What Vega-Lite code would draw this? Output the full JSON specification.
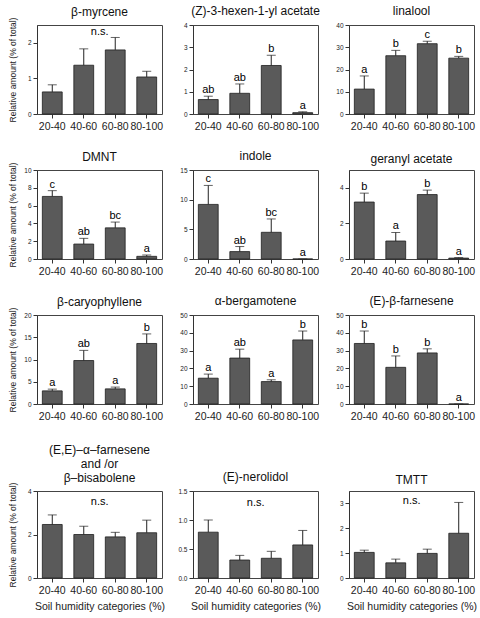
{
  "$schema": "https://vega.github.io/schema/vega-lite/v6.json",
  "background": "white",
  "padding": {"left": 7, "top": 4, "right": 2, "bottom": 2},
  "datasets": {
    "d": [
      {"c": "myrcene", "cat": "20-40", "mean": 0.62, "err": 0.82, "lab": ""},
      {"c": "myrcene", "cat": "40-60", "mean": 1.37, "err": 1.83, "lab": ""},
      {"c": "myrcene", "cat": "60-80", "mean": 1.80, "err": 2.15, "lab": ""},
      {"c": "myrcene", "cat": "80-100", "mean": 1.04, "err": 1.20, "lab": ""},
      {"c": "hexenyl", "cat": "20-40", "mean": 0.65, "err": 0.80, "lab": "ab"},
      {"c": "hexenyl", "cat": "40-60", "mean": 0.93, "err": 1.35, "lab": "ab"},
      {"c": "hexenyl", "cat": "60-80", "mean": 2.18, "err": 2.64, "lab": "b"},
      {"c": "hexenyl", "cat": "80-100", "mean": 0.06, "err": 0.10, "lab": "a"},
      {"c": "linalool", "cat": "20-40", "mean": 11.2, "err": 17.1, "lab": "a"},
      {"c": "linalool", "cat": "40-60", "mean": 26.2, "err": 28.6, "lab": "b"},
      {"c": "linalool", "cat": "60-80", "mean": 31.6, "err": 32.7, "lab": "c"},
      {"c": "linalool", "cat": "80-100", "mean": 25.1, "err": 25.9, "lab": "b"},
      {"c": "dmnt", "cat": "20-40", "mean": 7.03, "err": 7.68, "lab": "c"},
      {"c": "dmnt", "cat": "40-60", "mean": 1.68, "err": 2.32, "lab": "ab"},
      {"c": "dmnt", "cat": "60-80", "mean": 3.5, "err": 4.15, "lab": "bc"},
      {"c": "dmnt", "cat": "80-100", "mean": 0.3, "err": 0.45, "lab": "a"},
      {"c": "indole", "cat": "20-40", "mean": 9.2, "err": 12.4, "lab": "c"},
      {"c": "indole", "cat": "40-60", "mean": 1.25, "err": 2.1, "lab": "ab"},
      {"c": "indole", "cat": "60-80", "mean": 4.5, "err": 6.75, "lab": "bc"},
      {"c": "indole", "cat": "80-100", "mean": 0, "err": 0, "lab": "a"},
      {"c": "geranyl", "cat": "20-40", "mean": 3.2, "err": 3.7, "lab": "b"},
      {"c": "geranyl", "cat": "40-60", "mean": 1.01, "err": 1.49, "lab": "a"},
      {"c": "geranyl", "cat": "60-80", "mean": 3.62, "err": 3.87, "lab": "b"},
      {"c": "geranyl", "cat": "80-100", "mean": 0.05, "err": 0.08, "lab": "a"},
      {"c": "caryo", "cat": "20-40", "mean": 2.95, "err": 3.34, "lab": "a"},
      {"c": "caryo", "cat": "40-60", "mean": 9.77, "err": 12.05, "lab": "ab"},
      {"c": "caryo", "cat": "60-80", "mean": 3.4, "err": 3.8, "lab": "a"},
      {"c": "caryo", "cat": "80-100", "mean": 13.6, "err": 15.75, "lab": "b"},
      {"c": "bergamotene", "cat": "20-40", "mean": 14.5, "err": 16.8, "lab": "a"},
      {"c": "bergamotene", "cat": "40-60", "mean": 25.8, "err": 30.8, "lab": "ab"},
      {"c": "bergamotene", "cat": "60-80", "mean": 12.6, "err": 13.6, "lab": "a"},
      {"c": "bergamotene", "cat": "80-100", "mean": 36.0, "err": 41.0, "lab": "b"},
      {"c": "efarnesene", "cat": "20-40", "mean": 34.0, "err": 41.0, "lab": "b"},
      {"c": "efarnesene", "cat": "40-60", "mean": 20.6, "err": 27.0, "lab": "b"},
      {"c": "efarnesene", "cat": "60-80", "mean": 28.7, "err": 31.0, "lab": "b"},
      {"c": "efarnesene", "cat": "80-100", "mean": 0, "err": 0, "lab": "a"},
      {"c": "eefarnesene", "cat": "20-40", "mean": 2.46, "err": 2.9, "lab": ""},
      {"c": "eefarnesene", "cat": "40-60", "mean": 2.0, "err": 2.38, "lab": ""},
      {"c": "eefarnesene", "cat": "60-80", "mean": 1.89, "err": 2.1, "lab": ""},
      {"c": "eefarnesene", "cat": "80-100", "mean": 2.08, "err": 2.66, "lab": ""},
      {"c": "nerolidol", "cat": "20-40", "mean": 0.79, "err": 1.0, "lab": ""},
      {"c": "nerolidol", "cat": "40-60", "mean": 0.31, "err": 0.39, "lab": ""},
      {"c": "nerolidol", "cat": "60-80", "mean": 0.34, "err": 0.46, "lab": ""},
      {"c": "nerolidol", "cat": "80-100", "mean": 0.57, "err": 0.82, "lab": ""},
      {"c": "tmtt", "cat": "20-40", "mean": 1.03, "err": 1.12, "lab": ""},
      {"c": "tmtt", "cat": "40-60", "mean": 0.61, "err": 0.76, "lab": ""},
      {"c": "tmtt", "cat": "60-80", "mean": 0.99, "err": 1.16, "lab": ""},
      {"c": "tmtt", "cat": "80-100", "mean": 1.8, "err": 3.04, "lab": ""}
    ],
    "notes": [
      {"c": "myrcene", "cat": "40-60", "y": 2.3, "lab": "n.s."},
      {"c": "eefarnesene", "cat": "40-60", "y": 3.5, "lab": "n.s."},
      {"c": "nerolidol", "cat": "40-60", "y": 1.3, "lab": "n.s."},
      {"c": "tmtt", "cat": "40-60", "y": 3.08, "lab": "n.s."}
    ]
  },
  "spacing": 21,
  "vconcat": [
    {
      "columns": 3,
      "bounds": "flush",
      "spacing": {"column": 31, "row": 56},
      "concat": [
        {
          "title": {"text": "β-myrcene", "offset": -2}, "width": 125, "height": 89,
          "data": {"name": "d"}, "transform": [{"filter": "datum.c == 'myrcene'"}],
          "encoding": {"x": {"field": "cat", "type": "nominal", "title": null, "scale": {"paddingInner": 0.37, "paddingOuter": 0.17}}},
          "layer": [
            {"mark": "bar", "encoding": {"y": {"field": "mean", "type": "quantitative", "title": "Relative amount (% of total)", "scale": {"domain": [0, 2.5], "nice": false}, "axis": {"values": [0, 1, 2]}}}},
            {"mark": "rule", "encoding": {"y": {"field": "mean", "type": "quantitative", "title": "Relative amount (% of total)", "scale": {"domain": [0, 2.5], "nice": false}, "axis": {"values": [0, 1, 2]}}, "y2": {"field": "err"}}},
            {"mark": {"type": "tick", "size": 9}, "encoding": {"y": {"field": "err", "type": "quantitative", "title": "Relative amount (% of total)", "scale": {"domain": [0, 2.5], "nice": false}, "axis": {"values": [0, 1, 2]}}}},
            {"data": {"name": "notes"}, "transform": [{"filter": "datum.c == 'myrcene'"}], "mark": {"type": "text", "baseline": "middle"}, "encoding": {"x": {"field": "cat", "type": "nominal", "bandPosition": 1.3}, "y": {"field": "y", "type": "quantitative", "title": "Relative amount (% of total)", "scale": {"domain": [0, 2.5], "nice": false}, "axis": {"values": [0, 1, 2]}}, "text": {"field": "lab"}}}
          ]
        },
        {
          "title": "(Z)-3-hexen-1-yl acetate", "width": 125, "height": 89,
          "data": {"name": "d"}, "transform": [{"filter": "datum.c == 'hexenyl'"}],
          "encoding": {"x": {"field": "cat", "type": "nominal", "title": null, "scale": {"paddingInner": 0.37, "paddingOuter": 0.17}}},
          "layer": [
            {"mark": "bar", "encoding": {"y": {"field": "mean", "type": "quantitative", "title": null, "scale": {"domain": [0, 4], "nice": false}, "axis": {"values": [0, 1, 2, 3, 4]}}}},
            {"mark": "rule", "encoding": {"y": {"field": "mean", "type": "quantitative", "title": null, "scale": {"domain": [0, 4], "nice": false}, "axis": {"values": [0, 1, 2, 3, 4]}}, "y2": {"field": "err"}}},
            {"mark": {"type": "tick", "size": 9}, "encoding": {"y": {"field": "err", "type": "quantitative", "title": null, "scale": {"domain": [0, 4], "nice": false}, "axis": {"values": [0, 1, 2, 3, 4]}}}},
            {"mark": {"type": "text", "baseline": "alphabetic", "dy": -3}, "encoding": {"y": {"field": "err", "type": "quantitative", "title": null, "scale": {"domain": [0, 4], "nice": false}, "axis": {"values": [0, 1, 2, 3, 4]}}, "text": {"field": "lab"}}}
          ]
        },
        {
          "title": "linalool", "width": 125, "height": 89,
          "data": {"name": "d"}, "transform": [{"filter": "datum.c == 'linalool'"}],
          "encoding": {"x": {"field": "cat", "type": "nominal", "title": null, "scale": {"paddingInner": 0.37, "paddingOuter": 0.17}}},
          "layer": [
            {"mark": "bar", "encoding": {"y": {"field": "mean", "type": "quantitative", "title": null, "scale": {"domain": [0, 40], "nice": false}, "axis": {"values": [0, 10, 20, 30, 40]}}}},
            {"mark": "rule", "encoding": {"y": {"field": "mean", "type": "quantitative", "title": null, "scale": {"domain": [0, 40], "nice": false}, "axis": {"values": [0, 10, 20, 30, 40]}}, "y2": {"field": "err"}}},
            {"mark": {"type": "tick", "size": 9}, "encoding": {"y": {"field": "err", "type": "quantitative", "title": null, "scale": {"domain": [0, 40], "nice": false}, "axis": {"values": [0, 10, 20, 30, 40]}}}},
            {"mark": {"type": "text", "baseline": "alphabetic", "dy": -3}, "encoding": {"y": {"field": "err", "type": "quantitative", "title": null, "scale": {"domain": [0, 40], "nice": false}, "axis": {"values": [0, 10, 20, 30, 40]}}, "text": {"field": "lab"}}}
          ]
        },
        {
          "title": {"text": "DMNT", "offset": -2}, "width": 125, "height": 89,
          "data": {"name": "d"}, "transform": [{"filter": "datum.c == 'dmnt'"}],
          "encoding": {"x": {"field": "cat", "type": "nominal", "title": null, "scale": {"paddingInner": 0.37, "paddingOuter": 0.17}}},
          "layer": [
            {"mark": "bar", "encoding": {"y": {"field": "mean", "type": "quantitative", "title": "Relative amount (% of total)", "scale": {"domain": [0, 10], "nice": false}, "axis": {"values": [0, 2, 4, 6, 8, 10]}}}},
            {"mark": "rule", "encoding": {"y": {"field": "mean", "type": "quantitative", "title": "Relative amount (% of total)", "scale": {"domain": [0, 10], "nice": false}, "axis": {"values": [0, 2, 4, 6, 8, 10]}}, "y2": {"field": "err"}}},
            {"mark": {"type": "tick", "size": 9}, "encoding": {"y": {"field": "err", "type": "quantitative", "title": "Relative amount (% of total)", "scale": {"domain": [0, 10], "nice": false}, "axis": {"values": [0, 2, 4, 6, 8, 10]}}}},
            {"mark": {"type": "text", "baseline": "alphabetic", "dy": -3}, "encoding": {"y": {"field": "err", "type": "quantitative", "title": "Relative amount (% of total)", "scale": {"domain": [0, 10], "nice": false}, "axis": {"values": [0, 2, 4, 6, 8, 10]}}, "text": {"field": "lab"}}}
          ]
        },
        {
          "title": "indole", "width": 125, "height": 89,
          "data": {"name": "d"}, "transform": [{"filter": "datum.c == 'indole'"}],
          "encoding": {"x": {"field": "cat", "type": "nominal", "title": null, "scale": {"paddingInner": 0.37, "paddingOuter": 0.17}}},
          "layer": [
            {"mark": "bar", "encoding": {"y": {"field": "mean", "type": "quantitative", "title": null, "scale": {"domain": [0, 15], "nice": false}, "axis": {"values": [0, 5, 10, 15]}}}},
            {"mark": "rule", "encoding": {"y": {"field": "mean", "type": "quantitative", "title": null, "scale": {"domain": [0, 15], "nice": false}, "axis": {"values": [0, 5, 10, 15]}}, "y2": {"field": "err"}}},
            {"mark": {"type": "tick", "size": 9}, "encoding": {"y": {"field": "err", "type": "quantitative", "title": null, "scale": {"domain": [0, 15], "nice": false}, "axis": {"values": [0, 5, 10, 15]}}}},
            {"mark": {"type": "text", "baseline": "alphabetic", "dy": -3}, "encoding": {"y": {"field": "err", "type": "quantitative", "title": null, "scale": {"domain": [0, 15], "nice": false}, "axis": {"values": [0, 5, 10, 15]}}, "text": {"field": "lab"}}}
          ]
        },
        {
          "title": "geranyl acetate", "width": 125, "height": 89,
          "data": {"name": "d"}, "transform": [{"filter": "datum.c == 'geranyl'"}],
          "encoding": {"x": {"field": "cat", "type": "nominal", "title": null, "scale": {"paddingInner": 0.37, "paddingOuter": 0.17}}},
          "layer": [
            {"mark": "bar", "encoding": {"y": {"field": "mean", "type": "quantitative", "title": null, "scale": {"domain": [0, 5], "nice": false}, "axis": {"values": [0, 2, 4]}}}},
            {"mark": "rule", "encoding": {"y": {"field": "mean", "type": "quantitative", "title": null, "scale": {"domain": [0, 5], "nice": false}, "axis": {"values": [0, 2, 4]}}, "y2": {"field": "err"}}},
            {"mark": {"type": "tick", "size": 9}, "encoding": {"y": {"field": "err", "type": "quantitative", "title": null, "scale": {"domain": [0, 5], "nice": false}, "axis": {"values": [0, 2, 4]}}}},
            {"mark": {"type": "text", "baseline": "alphabetic", "dy": -3}, "encoding": {"y": {"field": "err", "type": "quantitative", "title": null, "scale": {"domain": [0, 5], "nice": false}, "axis": {"values": [0, 2, 4]}}, "text": {"field": "lab"}}}
          ]
        },
        {
          "title": {"text": "β-caryophyllene", "offset": -2}, "width": 125, "height": 89,
          "data": {"name": "d"}, "transform": [{"filter": "datum.c == 'caryo'"}],
          "encoding": {"x": {"field": "cat", "type": "nominal", "title": null, "scale": {"paddingInner": 0.37, "paddingOuter": 0.17}}},
          "layer": [
            {"mark": "bar", "encoding": {"y": {"field": "mean", "type": "quantitative", "title": "Relative amount (% of total)", "scale": {"domain": [0, 20], "nice": false}, "axis": {"values": [0, 5, 10, 15, 20]}}}},
            {"mark": "rule", "encoding": {"y": {"field": "mean", "type": "quantitative", "title": "Relative amount (% of total)", "scale": {"domain": [0, 20], "nice": false}, "axis": {"values": [0, 5, 10, 15, 20]}}, "y2": {"field": "err"}}},
            {"mark": {"type": "tick", "size": 9}, "encoding": {"y": {"field": "err", "type": "quantitative", "title": "Relative amount (% of total)", "scale": {"domain": [0, 20], "nice": false}, "axis": {"values": [0, 5, 10, 15, 20]}}}},
            {"mark": {"type": "text", "baseline": "alphabetic", "dy": -3}, "encoding": {"y": {"field": "err", "type": "quantitative", "title": "Relative amount (% of total)", "scale": {"domain": [0, 20], "nice": false}, "axis": {"values": [0, 5, 10, 15, 20]}}, "text": {"field": "lab"}}}
          ]
        },
        {
          "title": "α-bergamotene", "width": 125, "height": 89,
          "data": {"name": "d"}, "transform": [{"filter": "datum.c == 'bergamotene'"}],
          "encoding": {"x": {"field": "cat", "type": "nominal", "title": null, "scale": {"paddingInner": 0.37, "paddingOuter": 0.17}}},
          "layer": [
            {"mark": "bar", "encoding": {"y": {"field": "mean", "type": "quantitative", "title": null, "scale": {"domain": [0, 50], "nice": false}, "axis": {"values": [0, 10, 20, 30, 40, 50]}}}},
            {"mark": "rule", "encoding": {"y": {"field": "mean", "type": "quantitative", "title": null, "scale": {"domain": [0, 50], "nice": false}, "axis": {"values": [0, 10, 20, 30, 40, 50]}}, "y2": {"field": "err"}}},
            {"mark": {"type": "tick", "size": 9}, "encoding": {"y": {"field": "err", "type": "quantitative", "title": null, "scale": {"domain": [0, 50], "nice": false}, "axis": {"values": [0, 10, 20, 30, 40, 50]}}}},
            {"mark": {"type": "text", "baseline": "alphabetic", "dy": -3}, "encoding": {"y": {"field": "err", "type": "quantitative", "title": null, "scale": {"domain": [0, 50], "nice": false}, "axis": {"values": [0, 10, 20, 30, 40, 50]}}, "text": {"field": "lab"}}}
          ]
        },
        {
          "title": "(E)-β-farnesene", "width": 125, "height": 89,
          "data": {"name": "d"}, "transform": [{"filter": "datum.c == 'efarnesene'"}],
          "encoding": {"x": {"field": "cat", "type": "nominal", "title": null, "scale": {"paddingInner": 0.37, "paddingOuter": 0.17}}},
          "layer": [
            {"mark": "bar", "encoding": {"y": {"field": "mean", "type": "quantitative", "title": null, "scale": {"domain": [0, 50], "nice": false}, "axis": {"values": [0, 10, 20, 30, 40, 50]}}}},
            {"mark": "rule", "encoding": {"y": {"field": "mean", "type": "quantitative", "title": null, "scale": {"domain": [0, 50], "nice": false}, "axis": {"values": [0, 10, 20, 30, 40, 50]}}, "y2": {"field": "err"}}},
            {"mark": {"type": "tick", "size": 9}, "encoding": {"y": {"field": "err", "type": "quantitative", "title": null, "scale": {"domain": [0, 50], "nice": false}, "axis": {"values": [0, 10, 20, 30, 40, 50]}}}},
            {"mark": {"type": "text", "baseline": "alphabetic", "dy": -3}, "encoding": {"y": {"field": "err", "type": "quantitative", "title": null, "scale": {"domain": [0, 50], "nice": false}, "axis": {"values": [0, 10, 20, 30, 40, 50]}}, "text": {"field": "lab"}}}
          ]
        }
      ]
    },
    {
      "bounds": "flush",
      "spacing": 31,
      "hconcat": [
        {
          "title": {"text": ["(E,E)–α–farnesene", "and /or", "β–bisabolene"], "offset": -3}, "width": 125, "height": 87,
          "data": {"name": "d"}, "transform": [{"filter": "datum.c == 'eefarnesene'"}],
          "encoding": {"x": {"field": "cat", "type": "nominal", "title": "Soil humidity categories (%)", "scale": {"paddingInner": 0.37, "paddingOuter": 0.17}}},
          "layer": [
            {"mark": "bar", "encoding": {"y": {"field": "mean", "type": "quantitative", "title": "Relative amount (% of total)", "scale": {"domain": [0, 4], "nice": false}, "axis": {"values": [0, 2, 4]}}}},
            {"mark": "rule", "encoding": {"y": {"field": "mean", "type": "quantitative", "title": "Relative amount (% of total)", "scale": {"domain": [0, 4], "nice": false}, "axis": {"values": [0, 2, 4]}}, "y2": {"field": "err"}}},
            {"mark": {"type": "tick", "size": 9}, "encoding": {"y": {"field": "err", "type": "quantitative", "title": "Relative amount (% of total)", "scale": {"domain": [0, 4], "nice": false}, "axis": {"values": [0, 2, 4]}}}},
            {"data": {"name": "notes"}, "transform": [{"filter": "datum.c == 'eefarnesene'"}], "mark": {"type": "text", "baseline": "middle"}, "encoding": {"x": {"field": "cat", "type": "nominal", "bandPosition": 1.3}, "y": {"field": "y", "type": "quantitative", "title": "Relative amount (% of total)", "scale": {"domain": [0, 4], "nice": false}, "axis": {"values": [0, 2, 4]}}, "text": {"field": "lab"}}}
          ]
        },
        {
          "title": "(E)-nerolidol", "width": 125, "height": 87,
          "data": {"name": "d"}, "transform": [{"filter": "datum.c == 'nerolidol'"}],
          "encoding": {"x": {"field": "cat", "type": "nominal", "title": "Soil humidity categories (%)", "scale": {"paddingInner": 0.37, "paddingOuter": 0.17}}},
          "layer": [
            {"mark": "bar", "encoding": {"y": {"field": "mean", "type": "quantitative", "title": null, "scale": {"domain": [0, 1.5], "nice": false}, "axis": {"values": [0, 0.5, 1, 1.5], "format": ".1f"}}}},
            {"mark": "rule", "encoding": {"y": {"field": "mean", "type": "quantitative", "title": null, "scale": {"domain": [0, 1.5], "nice": false}, "axis": {"values": [0, 0.5, 1, 1.5], "format": ".1f"}}, "y2": {"field": "err"}}},
            {"mark": {"type": "tick", "size": 9}, "encoding": {"y": {"field": "err", "type": "quantitative", "title": null, "scale": {"domain": [0, 1.5], "nice": false}, "axis": {"values": [0, 0.5, 1, 1.5], "format": ".1f"}}}},
            {"data": {"name": "notes"}, "transform": [{"filter": "datum.c == 'nerolidol'"}], "mark": {"type": "text", "baseline": "middle"}, "encoding": {"x": {"field": "cat", "type": "nominal", "bandPosition": 1.3}, "y": {"field": "y", "type": "quantitative", "title": null, "scale": {"domain": [0, 1.5], "nice": false}, "axis": {"values": [0, 0.5, 1, 1.5], "format": ".1f"}}, "text": {"field": "lab"}}}
          ]
        },
        {
          "title": "TMTT", "width": 125, "height": 87,
          "data": {"name": "d"}, "transform": [{"filter": "datum.c == 'tmtt'"}],
          "encoding": {"x": {"field": "cat", "type": "nominal", "title": "Soil humidity categories (%)", "scale": {"paddingInner": 0.37, "paddingOuter": 0.17}}},
          "layer": [
            {"mark": "bar", "encoding": {"y": {"field": "mean", "type": "quantitative", "title": null, "scale": {"domain": [0, 3.5], "nice": false}, "axis": {"values": [0, 1, 2, 3]}}}},
            {"mark": "rule", "encoding": {"y": {"field": "mean", "type": "quantitative", "title": null, "scale": {"domain": [0, 3.5], "nice": false}, "axis": {"values": [0, 1, 2, 3]}}, "y2": {"field": "err"}}},
            {"mark": {"type": "tick", "size": 9}, "encoding": {"y": {"field": "err", "type": "quantitative", "title": null, "scale": {"domain": [0, 3.5], "nice": false}, "axis": {"values": [0, 1, 2, 3]}}}},
            {"data": {"name": "notes"}, "transform": [{"filter": "datum.c == 'tmtt'"}], "mark": {"type": "text", "baseline": "middle"}, "encoding": {"x": {"field": "cat", "type": "nominal", "bandPosition": 1.3}, "y": {"field": "y", "type": "quantitative", "title": null, "scale": {"domain": [0, 3.5], "nice": false}, "axis": {"values": [0, 1, 2, 3]}}, "text": {"field": "lab"}}}
          ]
        }
      ]
    }
  ],
  "config": {
    "font": "Liberation Sans",
    "view": {"stroke": "#444", "strokeWidth": 1},
    "title": {"fontSize": 12, "fontWeight": "normal", "color": "#111", "offset": 4, "frame": "group", "font": "Liberation Sans", "lineHeight": 14},
    "axis": {"grid": false, "labelColor": "#222", "titleColor": "#222", "tickColor": "#333", "domainColor": "#333", "titleFontWeight": "normal", "labelFont": "Liberation Sans", "titleFont": "Liberation Sans"},
    "axisY": {"labelFontSize": 6.5, "tickSize": 4, "labelPadding": 2, "titleFontSize": 8.5, "titlePadding": 6, "minExtent": 14, "maxExtent": 14},
    "axisX": {"labelFontSize": 10.5, "labelAngle": 0, "tickSize": 4, "labelPadding": 3, "domain": false, "titleFontSize": 10.5, "titlePadding": 6},
    "bar": {"fill": "#5a5a5a", "stroke": "#1e1e1e", "strokeWidth": 0.8},
    "rule": {"color": "#222", "strokeWidth": 1},
    "tick": {"color": "#222", "thickness": 1},
    "text": {"fontSize": 11, "color": "black", "font": "Liberation Sans"}
  }
}
